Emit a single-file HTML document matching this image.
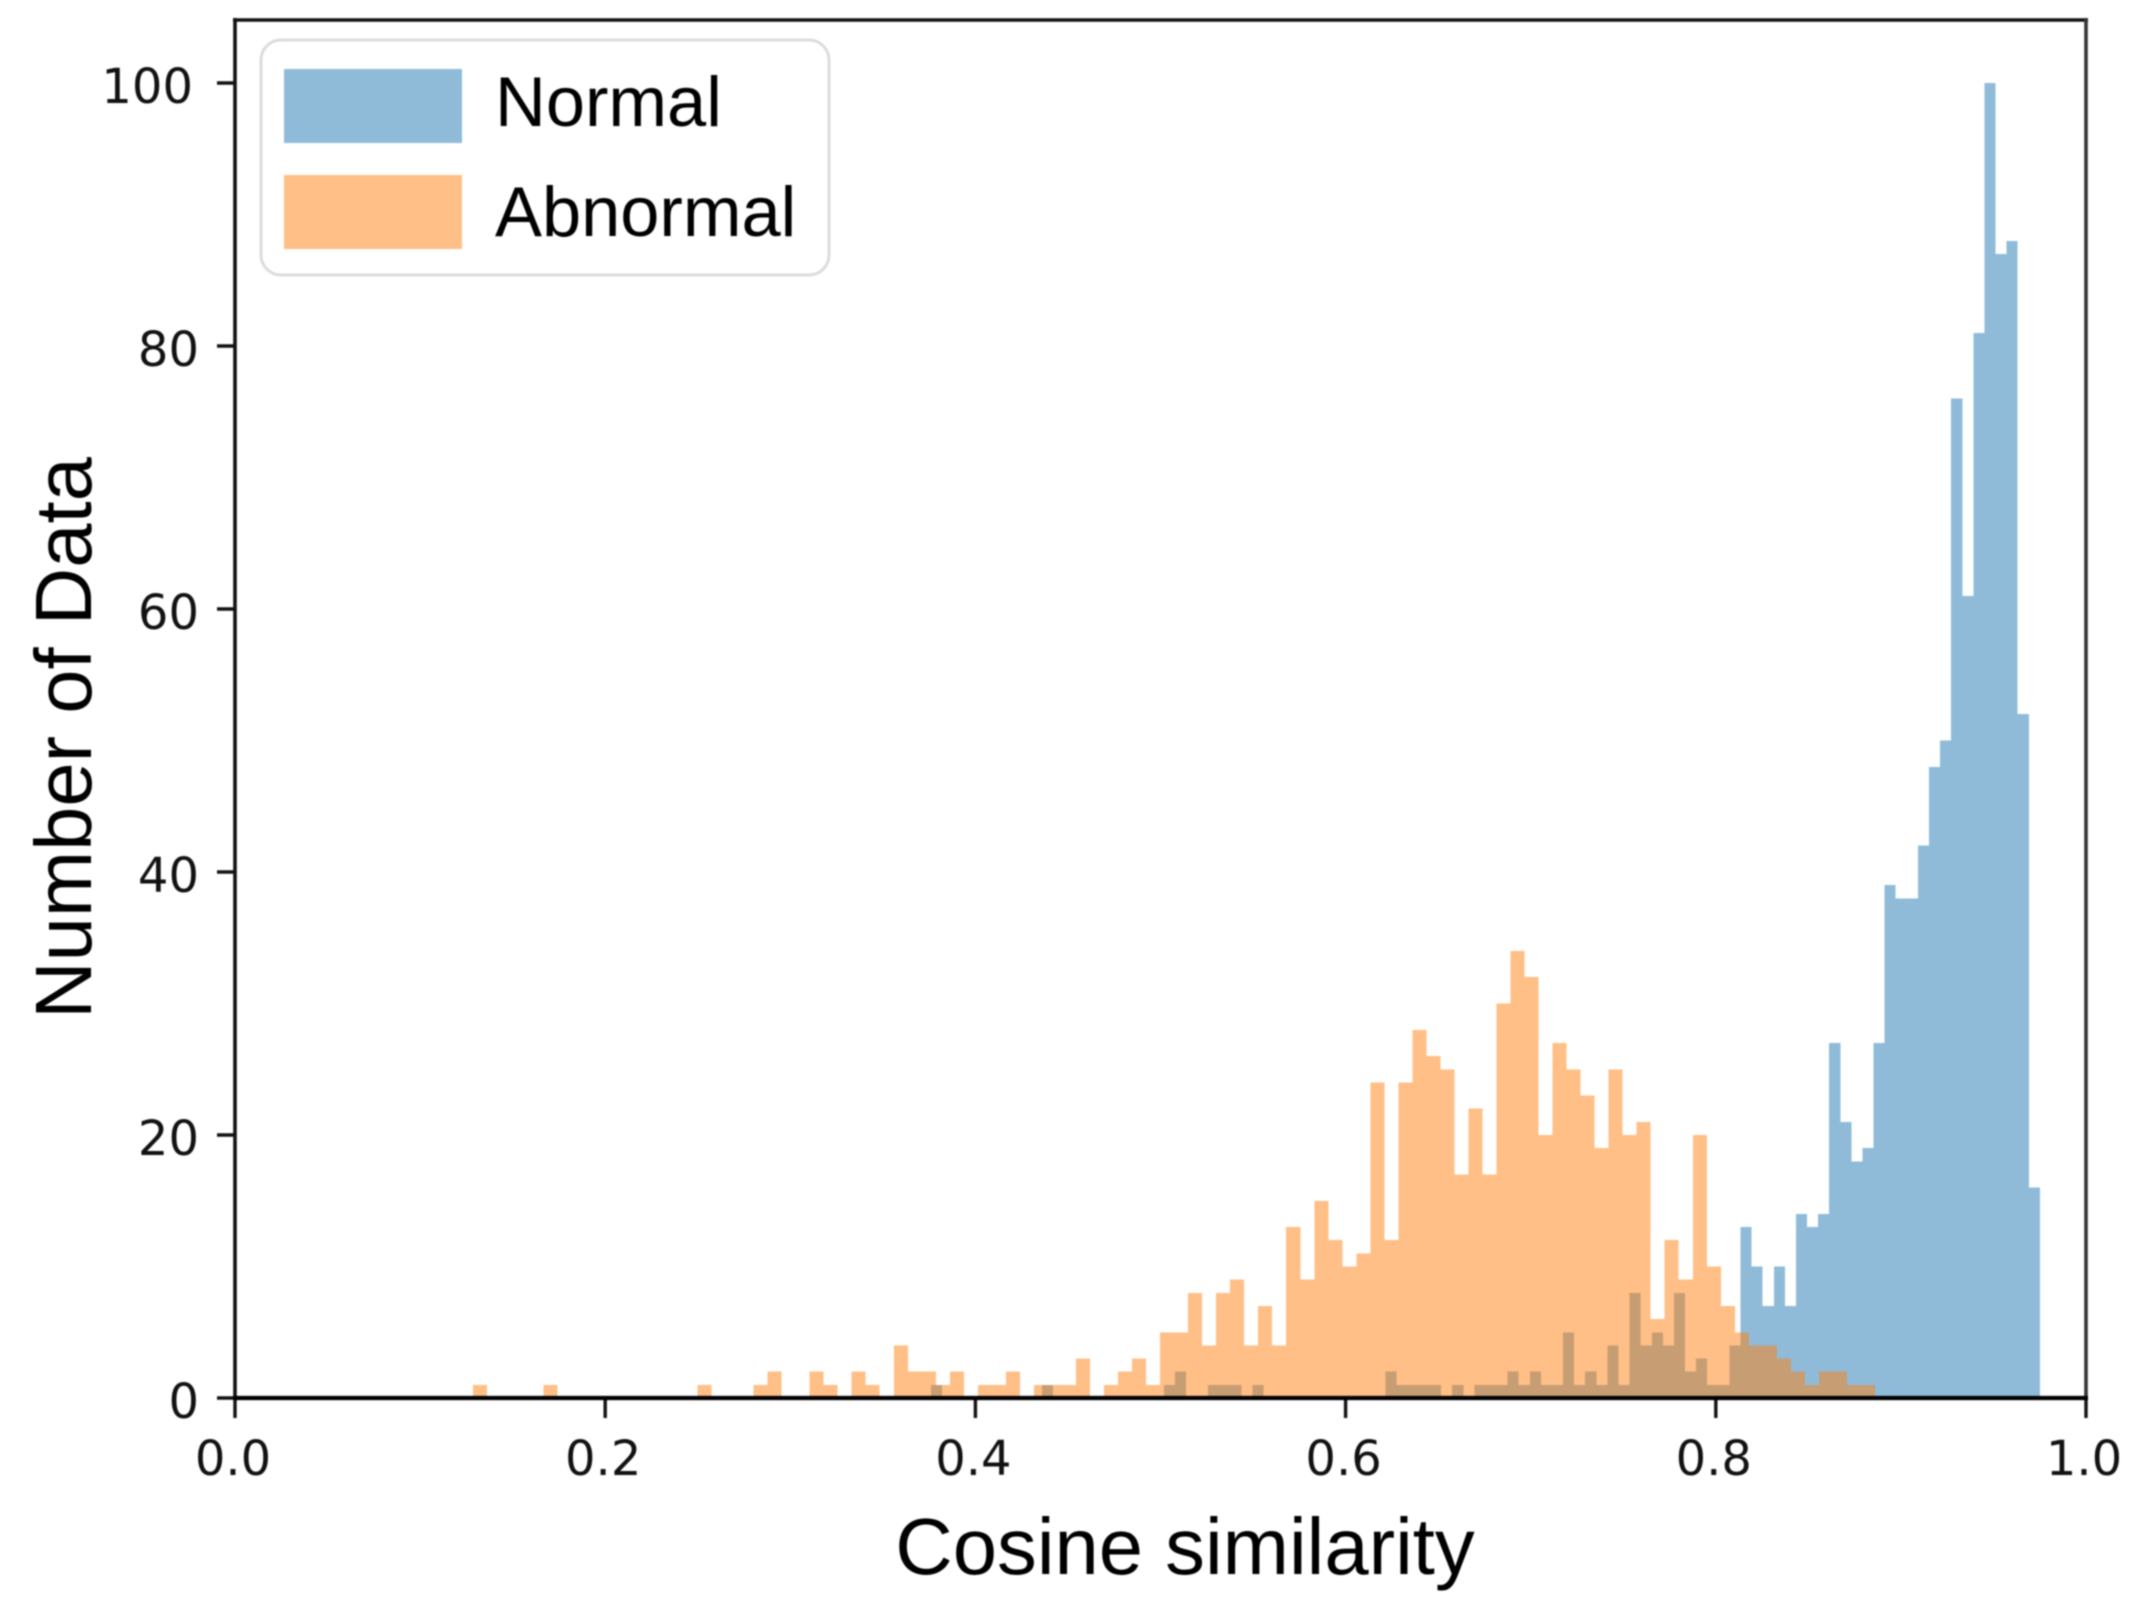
<!DOCTYPE html>
<html lang="en">
<head>
<meta charset="utf-8">
<title>Cosine similarity histogram</title>
<style>
  html, body { margin: 0; padding: 0; background: #fff; }
  #chart { display: block; filter: blur(0.8px); }
  .tick-label { font-family: "DejaVu Sans", sans-serif; font-size: 48px; fill: #111; }
  .axis-title { font-family: "Liberation Sans", sans-serif; font-size: 79.6px; fill: #000; }
  .legend-text { font-family: "Liberation Sans", sans-serif; font-size: 70.4px; fill: #000; }
</style>
</head>
<body>
<svg id="chart" xmlns="http://www.w3.org/2000/svg" width="2139" height="1613" viewBox="0 0 2139 1613">
  <rect width="2139" height="1613" fill="#fff"/>
  <g id="bars-normal" fill="#1f77b4" fill-opacity="0.5" shape-rendering="crispEdges"></g>
  <g id="bars-abnormal" fill="#ff7f0e" fill-opacity="0.5" shape-rendering="crispEdges"></g>
  <g id="ticks"></g>
  <g stroke-width="3.6" fill="none">
    <line x1="235" y1="18" x2="235" y2="1400" stroke="#111"/>
    <line x1="233" y1="20" x2="2088" y2="20" stroke="#111"/>
    <line x1="2086" y1="18" x2="2086" y2="1400" stroke="#333"/>
    <line x1="233" y1="1398" x2="2088" y2="1398" stroke="#000" stroke-width="4.2"/>
  </g>
  <text class="axis-title" x="1185" y="1574" text-anchor="middle">Cosine similarity</text>
  <text class="axis-title" transform="translate(91 738) rotate(-90)" text-anchor="middle">Number of Data</text>
  <g>
    <rect x="261" y="40" width="568" height="235" rx="20" ry="20" fill="#fff" stroke="#dcdcdc" stroke-width="3"/>
    <rect x="284" y="69" width="178" height="74" fill="#1f77b4" fill-opacity="0.5"/>
    <text class="legend-text" x="495" y="126">Normal</text>
    <rect x="284" y="175" width="178" height="74" fill="#ff7f0e" fill-opacity="0.5"/>
    <text class="legend-text" x="495" y="236">Abnormal</text>
  </g>
</svg>
<script>
// Bin counts (100 equal-width bins per series).
const normalRange = [0.376, 0.9751];
const normalCounts = [
  1,0,0,0,0,0,0,0,0,0,
  1,0,0,0,0,0,0,0,0,0,
  0,1,2,0,0,1,1,1,0,1,
  0,0,0,0,0,0,0,0,0,0,
  0,2,1,1,1,1,0,1,0,1,
  1,1,2,1,2,1,1,5,1,2,
  1,4,1,8,4,5,4,8,2,3,
  1,1,4,13,10,7,10,7,14,13,
  14,27,21,18,19,27,39,38,38,42,
  48,50,76,61,81,100,87,88,52,16
];
const abnormalRange = [0.1287, 0.886];
const abnormalCounts = [
  1,0,0,0,0,1,0,0,0,0,
  0,0,0,0,0,0,1,0,0,0,
  1,2,0,0,2,1,0,2,1,0,
  4,2,2,1,2,0,1,1,2,0,
  1,1,1,3,0,1,2,3,1,5,
  5,8,4,8,9,4,7,4,13,9,
  15,12,10,11,24,12,24,28,26,25,
  17,22,17,30,34,32,20,27,25,23,
  19,25,20,21,6,12,9,20,10,7,
  5,4,4,3,2,1,2,2,1,1
];
const xTickValues = [0, 0.2, 0.4, 0.6, 0.8, 1];
const xTickLabels = ["0.0", "0.2", "0.4", "0.6", "0.8", "1.0"];
const yTickValues = [0, 20, 40, 60, 80, 100];
const yTickLabels = ["0", "20", "40", "60", "80", "100"];

const SVG_NS = "http://www.w3.org/2000/svg";
const plotLeft = 235, plotRight = 2086, plotBottom = 1398, yTop100 = 83;
function xScale(v) { return plotLeft + (plotRight - plotLeft) * v; }
function yScale(v) { return plotBottom - (plotBottom - yTop100) * v / 100; }

function drawBars(groupId, range, counts, name) {
  const group = document.getElementById(groupId);
  const binWidth = (range[1] - range[0]) / counts.length;
  counts.forEach(function (count, i) {
    if (!count) return;
    const left = xScale(range[0] + i * binWidth);
    const right = xScale(range[0] + (i + 1) * binWidth);
    const rect = document.createElementNS(SVG_NS, "rect");
    rect.setAttribute("x", left);
    rect.setAttribute("width", right - left);
    rect.setAttribute("y", yScale(count));
    rect.setAttribute("height", yScale(0) - yScale(count));
    
    
    group.appendChild(rect);
  });
}
drawBars("bars-normal", normalRange, normalCounts, "normal");
drawBars("bars-abnormal", abnormalRange, abnormalCounts, "abnormal");

const tickGroup = document.getElementById("ticks");
xTickValues.forEach(function (v, i) {
  const px = xScale(v);
  const tick = document.createElementNS(SVG_NS, "line");
  tick.setAttribute("x1", px);
  tick.setAttribute("x2", px);
  tick.setAttribute("y1", plotBottom);
  tick.setAttribute("y2", plotBottom + 20);
  tick.setAttribute("stroke", "#111");
  tick.setAttribute("stroke-width", "3.4");
  
  
  tickGroup.appendChild(tick);
  const label = document.createElementNS(SVG_NS, "text");
  label.setAttribute("class", "tick-label");
  label.setAttribute("x", px - 2);
  label.setAttribute("y", plotBottom + 77);
  label.setAttribute("text-anchor", "middle");
  label.textContent = xTickLabels[i];
  
  
  tickGroup.appendChild(label);
});
yTickValues.forEach(function (v, i) {
  const py = yScale(v);
  const tick = document.createElementNS(SVG_NS, "line");
  tick.setAttribute("x1", plotLeft - 18);
  tick.setAttribute("x2", plotLeft);
  tick.setAttribute("y1", py);
  tick.setAttribute("y2", py);
  tick.setAttribute("stroke", "#111");
  tick.setAttribute("stroke-width", "3.4");
  
  
  tickGroup.appendChild(tick);
  const label = document.createElementNS(SVG_NS, "text");
  label.setAttribute("class", "tick-label");
  label.setAttribute("x", plotLeft - (yTickLabels[i].length > 2 ? 42 : 36));
  label.setAttribute("y", py + 20);
  label.setAttribute("text-anchor", "end");
  label.textContent = yTickLabels[i];
  
  
  tickGroup.appendChild(label);
});
</script>
</body>
</html>
